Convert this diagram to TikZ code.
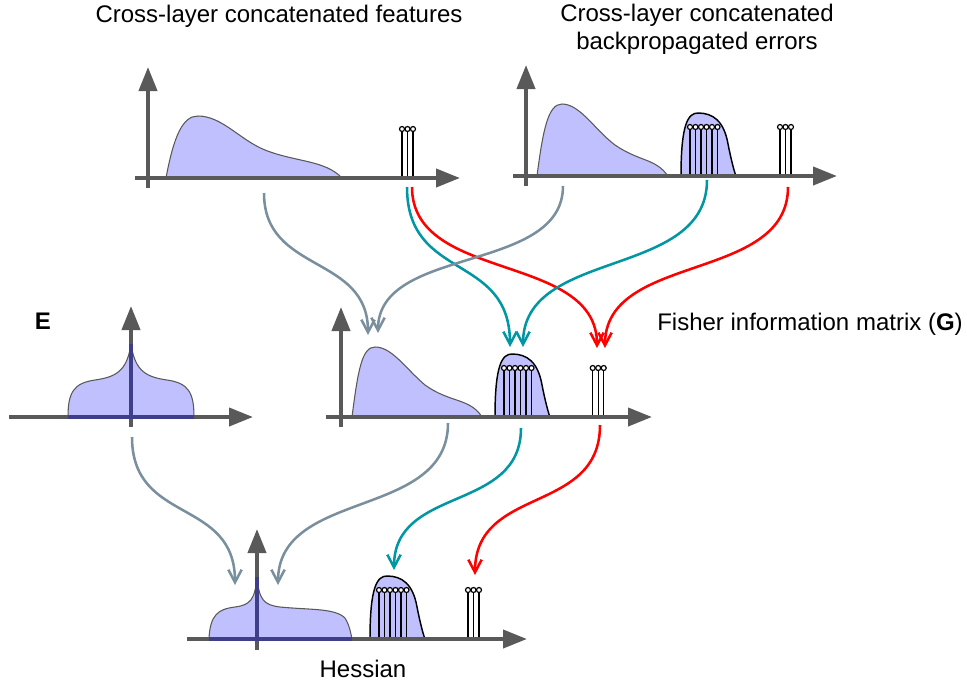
\documentclass[tikz,border=0pt]{standalone}
\usepackage{fontspec}
\setmainfont{Liberation Sans}
\usetikzlibrary{arrows.meta}

\definecolor{axisgray}{RGB}{89,89,89}
\definecolor{specfill}{RGB}{192,192,255}
\definecolor{peakblue}{RGB}{62,62,138}
\definecolor{slate}{RGB}{122,143,158}
\definecolor{tealflow}{RGB}{0,150,162}
\definecolor{redflow}{RGB}{255,0,0}

\begin{document}
\begin{tikzpicture}[x=0.75pt,y=-0.75pt,
    every node/.style={font=\fontsize{18}{20.5}\selectfont},
    axis/.style={line width=3pt, draw=axisgray, -{Triangle[length=18pt,width=13.5pt]}},
    tick/.style={line width=3pt, draw=axisgray},
    hump/.style={fill=specfill, draw=axisgray, line width=0.8pt},
    bump/.style={fill=specfill, draw=black, line width=1.1pt},
    peak/.style={line width=2.4pt, draw=peakblue},
    stem/.style={draw=black, line width=0.9pt},
    flow/.style={line width=1.9pt, -{Straight Barb[length=9.5pt,width=10pt]}},
    lobe/.pic={
        \path[bump] (0,0) .. controls (0,-52) and (7,-63) .. (17,-63)
            .. controls (32,-63) and (43,-55) .. (47,-32)
            .. controls (50,-17) and (53,-5) .. (55,0) -- cycle;
        \foreach \sx in {9,14.5,20,25.5,31,36.5} {
            \draw[stem] (\sx,0) -- (\sx,-46.5);
            \draw[stem,fill=white] (\sx,-49) circle[radius=2.5];
        }
    },
    spikes/.pic={
        \foreach \sx in {0,5.5,11} {
            \draw[stem] (\sx,0) -- (\sx,-46.5);
            \draw[stem,fill=white] (\sx,-49) circle[radius=2.5];
        }
    }]
\useasboundingbox (0,0) rectangle (967,686);

% titles
\node[anchor=base] (featlbl) at (279,22) {Cross-layer concatenated features};
\node[anchor=base, align=center] (errlbl) at (697,49) {Cross-layer concatenated\\backpropagated errors};
\node[anchor=base] (elbl) at (43,329) {\textbf{E}};
\node[anchor=base] (fisherlbl) at (810,330) {Fisher information matrix (\textbf{G})};
\node[anchor=base] (hesslbl) at (363,677) {Hessian};

% features (top left)
\path[hump] (166,178) .. controls (174,135) and (183,116) .. (198,116)
    .. controls (222,116) and (240,140) .. (265,150)
    .. controls (295,162) and (325,160) .. (342,178) -- cycle;
\pic at (402,178) {spikes};
\draw[tick] (148,188) -- (148,176);
\draw[axis] (148,176) -- (148,67);
\draw[axis] (135,178) -- (460,178);

% errors (top right)
\path[hump] (537,176) .. controls (543,130) and (548,104) .. (562,104)
    .. controls (580,104) and (595,130) .. (615,145)
    .. controls (640,162) and (655,158) .. (668,176) -- cycle;
\pic at (681,176) {lobe};
\pic at (780,176) {spikes};
\draw[tick] (526,186) -- (526,174);
\draw[axis] (526,174) -- (526,65);
\draw[axis] (513,176) -- (837,176);

% E (middle left)
\path[hump] (68,417) .. controls (68,392) and (74,383) .. (95,380)
    .. controls (115,377) and (127,372) .. (131,344)
    .. controls (135,372) and (147,377) .. (167,380)
    .. controls (188,383) and (194,392) .. (194,417) -- cycle;
\draw[tick] (131,427) -- (131,415);
\draw[axis] (131,415) -- (131,306);
\draw[axis] (9,417) -- (253,417);
\draw[peak] (131,344) -- (131,417);
\draw[peak] (68,417) -- (194,417);

% Fisher (middle)
\path[hump] (352,417) .. controls (358,370) and (362,347) .. (375,347)
    .. controls (392,347) and (405,368) .. (425,385)
    .. controls (450,403) and (470,398) .. (482,417) -- cycle;
\pic at (495,417) {lobe};
\pic at (592.7,417) {spikes};
\draw[tick] (341,427) -- (341,415);
\draw[axis] (341,415) -- (341,307);
\draw[axis] (326,417) -- (652,417);

% Hessian (bottom)
\path[hump] (209,639) .. controls (210,615) and (218,609) .. (235,607)
    .. controls (250,605) and (255,600) .. (257,577)
    .. controls (259,600) and (264,605) .. (280,607)
    .. controls (310,610) and (335,608) .. (345,618)
    .. controls (350,626) and (351,635) .. (352,639) -- cycle;
\pic at (370,639) {lobe};
\pic at (468,639) {spikes};
\draw[tick] (257,650) -- (257,637);
\draw[axis] (257,637) -- (257,529);
\draw[axis] (187,639) -- (527,639);
\draw[peak] (257,577) -- (257,639);
\draw[peak] (209,639) -- (352,639);

% arrow ends
\coordinate (ft1) at (264,193);
\coordinate (ft2) at (407,187);
\coordinate (ft3) at (412,187);
\coordinate (er1) at (563,186);
\coordinate (er2) at (707,180);
\coordinate (er3) at (788,187);
\coordinate (gm1) at (368,335);
\coordinate (gm2) at (378,333);
\coordinate (gb1) at (510,347);
\coordinate (gb2) at (523,347);
\coordinate (gc1) at (597,348);
\coordinate (gc2) at (605,348);
\coordinate (es) at (132,437);
\coordinate (gs1) at (448,423);
\coordinate (gs2) at (521,428);
\coordinate (gs3) at (600,425);
\coordinate (h1) at (235,585);
\coordinate (h2) at (278,585);
\coordinate (h3) at (394,570);
\coordinate (h4) at (475,575);

% flows
\draw[flow, redflow] (ft3) .. controls +(0,96) and +(0,-96) .. (gc1);
\draw[flow, redflow] (er3) .. controls +(0,96) and +(0,-96) .. (gc2);
\draw[flow, redflow] (gs3) .. controls +(0,90) and +(0,-90) .. (h4);
\draw[flow, tealflow] (ft2) .. controls +(0,95) and +(0,-95) .. (gb1);
\draw[flow, tealflow] (er2) .. controls +(0,100) and +(0,-100) .. (gb2);
\draw[flow, tealflow] (gs2) .. controls +(0,85) and +(0,-85) .. (h3);
\draw[flow, slate] (ft1) .. controls +(0,81) and +(0,-81) .. (gm1);
\draw[flow, slate] (er1) .. controls +(0,88) and +(0,-88) .. (gm2);
\draw[flow, slate] (es) .. controls +(0,88) and +(0,-88) .. (h1);
\draw[flow, slate] (gs1) .. controls +(0,97) and +(0,-97) .. (h2);
\end{tikzpicture}
\end{document}
